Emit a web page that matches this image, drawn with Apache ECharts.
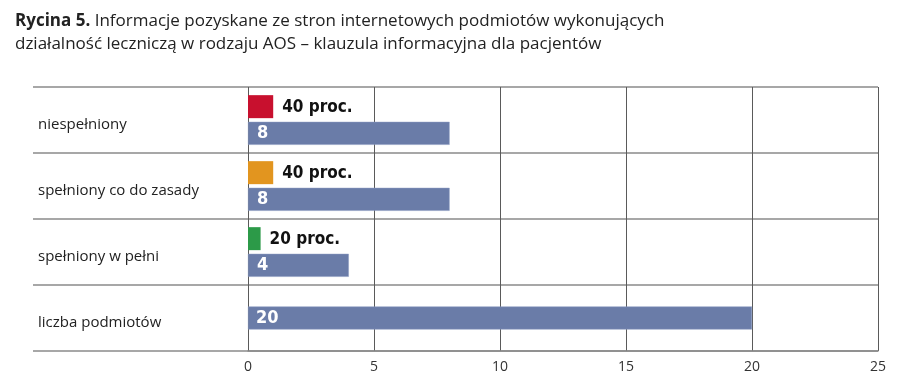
<!DOCTYPE html>
<html><head><meta charset="utf-8">
<script src="https://cdn.jsdelivr.net/npm/echarts@6/dist/echarts.min.js"></script>
<style>html,body{margin:0;padding:0;background:#fff}#c{width:900px;height:390px}</style>
</head><body><div id="c"></div>
<script>
const categories = ['niespełniony', 'spełniony co do zasady', 'spełniony w pełni', 'liczba podmiotów'];
const percentLabels = [40, 40, 20, null];
const percentBarLengths = [1, 1, 0.5, null];
const percentColors = ['#c8102e', '#e2951f', '#2c9a48'];
const counts = [8, 8, 4, null];
const totalCount = [null, null, null, 20];
const xTicks = { min: 0, max: 25, interval: 5 };

const FONT = '"Open Sans", "Noto Sans", sans-serif';
const BOLD_FONT = '"DejaVu Sans Condensed", "Liberation Sans Narrow", sans-serif';
const blue = '#6a7ca8';

const chart = echarts.init(document.getElementById('c'), null, { renderer: 'canvas' });
chart.setOption({
  animation: false,
  title: {
    left: 10, top: 5,
    text: '{b|Rycina 5.} Informacje pozyskane ze stron internetowych podmiotów wykonujących\ndziałalność leczniczą w rodzaju AOS – klauzula informacyjna dla pacjentów',
    textStyle: {
      fontFamily: FONT, fontSize: 17, fontWeight: 'normal', color: '#222', lineHeight: 23,
      rich: { b: { fontFamily: FONT, fontSize: 17, fontWeight: 'bold', color: '#222', lineHeight: 23 } }
    }
  },
  grid: [
    { left: 33, right: 22, top: 87, bottom: 39 },
    { left: 248, right: 22, top: 87, bottom: 39 }
  ],
  xAxis: [
    { gridIndex: 0, type: 'value', min: 0, max: 1, show: false },
    {
      gridIndex: 1, type: 'value', min: xTicks.min, max: xTicks.max, interval: xTicks.interval,
      axisLine: { show: true, lineStyle: { color: '#8a8a8a', width: 1.5 } },
      axisTick: { show: false },
      splitLine: { show: true, lineStyle: { color: '#5a5a5a', width: 1 } },
      axisLabel: { color: '#333', fontFamily: FONT, fontSize: 14, margin: 9 }
    }
  ],
  yAxis: [
    {
      gridIndex: 0, type: 'category', data: categories, inverse: true,
      axisLine: { show: false }, axisTick: { show: false },
      splitLine: { show: true, lineStyle: { color: '#8a8a8a', width: 1.5 } },
      axisLabel: { inside: true, margin: 5, color: '#222', fontFamily: FONT, fontSize: 15,
        verticalAlign: 'top', lineHeight: 10 }
    },
    {
      gridIndex: 1, type: 'category', data: categories, inverse: true,
      axisLine: { show: false }, axisTick: { show: false }, splitLine: { show: false }, axisLabel: { show: false }
    },
    {
      gridIndex: 1, type: 'category', data: categories, inverse: true, show: false
    }
  ],
  series: [
    {
      type: 'bar', xAxisIndex: 1, yAxisIndex: 1, barWidth: 23, barGap: '16%',
      data: percentBarLengths.map((v, i) => v == null ? null : { value: v, itemStyle: { color: percentColors[i] } }),
      label: {
        show: true, position: 'right', distance: 9, offset: [0, 1],
        formatter: p => percentLabels[p.dataIndex] + ' proc.',
        fontFamily: BOLD_FONT, fontWeight: 'bold', fontSize: 17, color: '#111'
      }
    },
    {
      type: 'bar', xAxisIndex: 1, yAxisIndex: 1, barWidth: 23,
      data: counts,
      itemStyle: { color: blue, borderColor: '#8a9ac0', borderWidth: 0.5 },
      label: {
        show: true, position: 'insideLeft', distance: 9,
        fontFamily: BOLD_FONT, fontWeight: 'bold', fontSize: 18, color: '#fff'
      }
    },
    {
      type: 'bar', xAxisIndex: 1, yAxisIndex: 2, barWidth: 23,
      data: totalCount,
      itemStyle: { color: blue, borderColor: '#8a9ac0', borderWidth: 0.5 },
      label: {
        show: true, position: 'insideLeft', distance: 8,
        fontFamily: BOLD_FONT, fontWeight: 'bold', fontSize: 18, color: '#fff'
      }
    }
  ]
});
</script></body></html>
